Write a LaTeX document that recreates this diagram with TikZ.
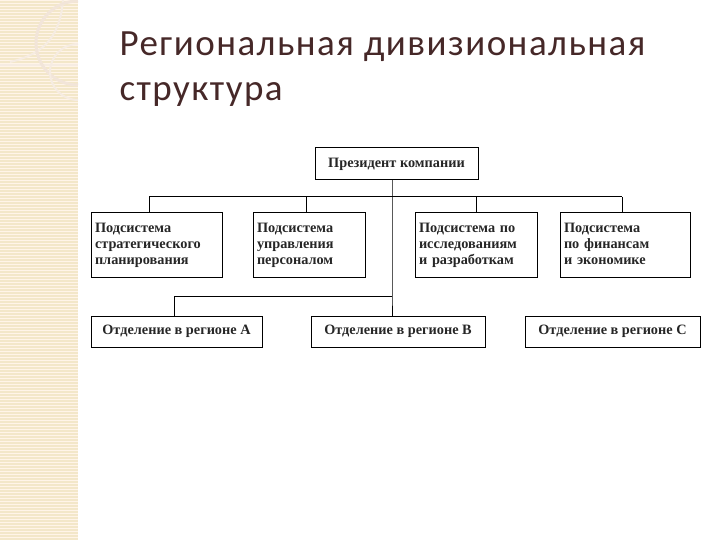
\documentclass[tikz,border=0pt]{standalone}
\usepackage{fontspec}
\setmainfont{Liberation Serif}
\newfontfamily\titlefont{Carlito}
\begin{document}
\begin{tikzpicture}[x=1pt,y=-1pt,
  box/.style={draw,line width=1pt,inner sep=0pt,font=\bfseries\fontsize{14.3}{16}\selectfont,text=black!85},
  ln/.style={line width=1pt}]
\useasboundingbox (0,0) rectangle (720,540);
\fill[white] (0,0) rectangle (720,540);
\fill[fill={rgb,255:red,243;green,231;blue,201}] (0,0) rectangle (78,540);
\foreach \y in {0,3,...,540} \draw[white!70!orange!30,line width=0.4pt] (0,\y) -- (78,\y);
\draw[white!85!brown,line width=2pt] (63,0) .. controls (60,40) and (40,55) .. (10,62);
\draw[white!85!brown,line width=1.2pt] (0,65) -- (78,65);
\draw[white!80!brown,line width=3pt] (78,85) arc[start angle=90,end angle=270,radius=42];
\draw[white!85!brown,line width=2pt] (78,100) arc[start angle=90,end angle=270,radius=28];
\node[anchor=base west,font=\titlefont\addfontfeature{LetterSpace=4}\fontsize{37}{40}\selectfont,text={rgb,255:red,70;green,40;blue,40}] (t1) at (116,56) {Региональная дивизиональная};
\node[anchor=base west,font=\titlefont\addfontfeature{LetterSpace=4}\fontsize{37}{40}\selectfont,text={rgb,255:red,70;green,40;blue,40}] (t2) at (116,101) {структура};
\node[box,minimum width=163,minimum height=32] (p) at (396.5,164) {Президент компании};
\node[box,minimum width=131,minimum height=64,align=left,text width=123] (s1) at (156.5,245) {\strut Подсистема\\стратегического\\планирования\strut};
\node[box,minimum width=112,minimum height=64,align=left,text width=104] (s2) at (309,245) {\strut Подсистема\\управления\\персоналом\strut};
\node[box,minimum width=122,minimum height=64,align=left,text width=114] (s3) at (476,245) {\strut Подсистема по\\исследованиям\\и разработкам\strut};
\node[box,minimum width=130,minimum height=64,align=left,text width=122] (s4) at (625,245) {\strut Подсистема\\по финансам\\и экономике\strut};
\node[box,minimum width=171,minimum height=31] (a) at (176.5,331.5) {Отделение в регионе А};
\node[box,minimum width=174,minimum height=31] (b) at (398,331.5) {Отделение в регионе В};
\node[box,minimum width=175,minimum height=31] (c) at (612.5,331.5) {Отделение в регионе С};
\coordinate (j1) at (392,197);
\coordinate (j2) at (392,296);
\draw[ln] (p.south -| j1) -- (j2) -- (j2 |- b.north);
\draw[ln] (149,197) -- (622,197);
\draw[ln] (149,197) -- (149,213);
\draw[ln] (306,197) -- (306,213);
\draw[ln] (476,197) -- (476,213);
\draw[ln] (622,197) -- (622,213);
\draw[ln] (j2) -- (174,296) -- (174,316);
\end{tikzpicture}
\end{document}
